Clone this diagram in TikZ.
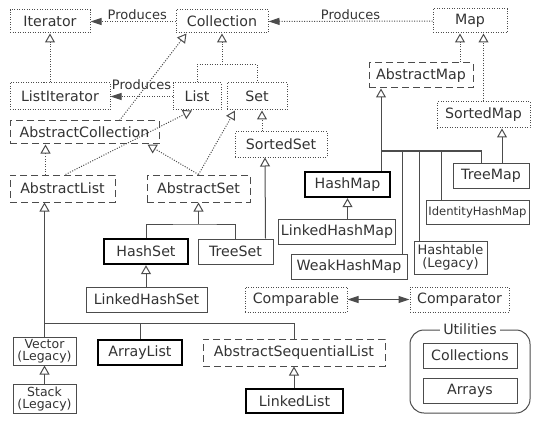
\documentclass[tikz,border=0pt]{standalone}
\usepackage{fontspec}
\setmainfont{DejaVu Sans}
\usetikzlibrary{arrows.meta}

\definecolor{ink}{rgb}{0.2,0.2,0.2}
\definecolor{edge}{rgb}{0.3,0.3,0.3}

\begin{document}
\begin{tikzpicture}[x=1pt, y=-1pt,
    every node/.style={font=\fontsize{14.2}{15}\selectfont, text=ink, inner sep=2pt},
    iface/.style={draw=edge, line width=1pt, dash pattern=on 1pt off 1.5pt},
    abstr/.style={draw=edge, line width=1pt, dash pattern=on 7pt off 4pt},
    impl/.style={draw=edge, line width=1pt},
    heavy/.style={draw=black, line width=2.4pt},
    small/.style={font=\fontsize{12.5}{12}\selectfont, align=center},
    tiny/.style={font=\fontsize{11.6}{12}\selectfont},
    twoline/.style={font=\fontsize{13}{13}\selectfont, align=center},
    group/.style={draw=edge, line width=1pt, rounded corners=14pt},
    ifline/.style={edge, line width=1pt, dash pattern=on 1pt off 1.5pt},
    iinherit/.style={ifline, -{Triangle[open, width=10pt, length=9pt]}},
    cline/.style={edge, line width=1pt},
    cinherit/.style={cline, -{Triangle[open, width=10pt, length=9pt]}},
    produce/.style={ifline, -{Triangle[width=7pt, length=11pt]}},
    both/.style={cline, {Triangle[width=7pt, length=11pt]}-{Triangle[width=7pt, length=11pt]}},
    verb/.style={font=\fontsize{13}{14}\selectfont, inner sep=1pt}]
    \useasboundingbox (0,0) rectangle (554,425);

    \node[iface, minimum width=80pt, minimum height=23pt] (Iterator) at (50,21.5) {Iterator};
    \node[iface, minimum width=92pt, minimum height=23pt] (Collection) at (222,21.5) {Collection};
    \node[iface, minimum width=74pt, minimum height=24pt] (Map) at (470,21) {Map};
    \node[iface, minimum width=100pt, minimum height=27pt] (ListIterator) at (60,96.5) {ListIterator};
    \node[iface, minimum width=48pt, minimum height=27pt] (List) at (197,96.5) {List};
    \node[iface, minimum width=60pt, minimum height=27pt] (Set) at (257,96.5) {Set};
    \node[abstr, minimum width=149pt, minimum height=23pt] (AbstractCollection) at (84.5,132.5) {AbstractCollection};
    \node[iface, minimum width=92pt, minimum height=25pt] (SortedSet) at (281,144.5) {SortedSet};
    \node[abstr, minimum width=105pt, minimum height=27pt] (AbstractList) at (62.5,188.5) {AbstractList};
    \node[abstr, minimum width=103pt, minimum height=27pt] (AbstractSet) at (198.5,188.5) {AbstractSet};
    \node[abstr, minimum width=104pt, minimum height=25pt] (AbstractMap) at (421,75.5) {AbstractMap};
    \node[iface, minimum width=93pt, minimum height=26pt] (SortedMap) at (483.5,115) {SortedMap};
    \node[heavy, minimum width=85pt, minimum height=25pt] (HashMap) at (347.5,184.5) {HashMap};
    \node[impl, minimum width=76pt, minimum height=25pt] (TreeMap) at (491,175.5) {TreeMap};
    \node[impl, tiny, minimum width=103pt, minimum height=24pt] (IdentityHashMap) at (477.5,212) {IdentityHashMap};
    \node[impl, minimum width=114pt, minimum height=25pt] (LinkedHashMap) at (337,231.5) {LinkedHashMap};
    \node[impl, twoline, minimum width=73pt, minimum height=33pt] (Hashtable) at (450.5,257.5) {Hashtable\\(Legacy)};
    \node[impl, minimum width=116pt, minimum height=25pt] (WeakHashMap) at (349,266.5) {WeakHashMap};
    \node[heavy, minimum width=84pt, minimum height=25pt] (HashSet) at (146,251.5) {HashSet};
    \node[impl, minimum width=75pt, minimum height=25pt] (TreeSet) at (235.5,251.5) {TreeSet};
    \node[impl, minimum width=121pt, minimum height=25pt] (LinkedHashSet) at (146.5,299.5) {LinkedHashSet};
    \node[iface, minimum width=102pt, minimum height=25pt] (Comparable) at (296,299.5) {Comparable};
    \node[iface, minimum width=99pt, minimum height=25pt] (Comparator) at (459.5,299.5) {Comparator};
    \node[impl, small, minimum width=63pt, minimum height=28pt] (Vector) at (44.5,351) {Vector\\(Legacy)};
    \node[heavy, minimum width=84pt, minimum height=25pt] (ArrayList) at (140,352.5) {ArrayList};
    \node[abstr, minimum width=182pt, minimum height=27pt] (AbstractSequentialList) at (294,352.5) {AbstractSequentialList};
    \node[impl, small, minimum width=63pt, minimum height=28pt] (Stack) at (44.5,399) {Stack\\(Legacy)};
    \node[heavy, minimum width=97pt, minimum height=24pt] (LinkedList) at (294.5,401) {LinkedList};
    \node[group, minimum width=120pt, minimum height=83pt] (Utilities) at (470,371.5) {};
    \node[fill=white, inner sep=3pt] (UtilitiesLabel) at (Utilities.north) {Utilities};
    \node[impl, minimum width=94pt, minimum height=25pt] (Collections) at (470,355.5) {Collections};
    \node[impl, minimum width=94pt, minimum height=25pt] (Arrays) at (470,390.5) {Arrays};

    \draw[produce] (Collection) -- node[above, verb, pos=0.45] {Produces} (Iterator);
    \draw[produce] (Map) -- node[above, verb] {Produces} (Collection);
    \draw[produce] (List) -- node[above=5pt, verb] {Produces} (ListIterator);

    \coordinate (lsbus) at (222,65);
    \draw[iinherit] (Iterator.south |- ListIterator.north) -- (Iterator.south);
    \draw[ifline] (List.north) |- (lsbus) -| (Set.north);
    \draw[iinherit] (lsbus) -- (Collection.south);
    \draw[iinherit] ([xshift=-40pt]AbstractCollection.north east) -- ([xshift=11pt]Collection.south west);
    \draw[iinherit] ([xshift=3pt]AbstractList.north) -- ([xshift=-5pt]List.south);
    \draw[iinherit] ([xshift=-17pt]AbstractList.north) -- ([xshift=-39pt]AbstractCollection.south);
    \draw[iinherit] (AbstractSet.north) -- ([xshift=-12pt]AbstractCollection.south east);
    \draw[iinherit] (AbstractSet.north) -- ([xshift=-22pt]Set.south);
    \draw[iinherit] ([xshift=-19pt]SortedSet.north) -- ([xshift=5pt]Set.south);
    \draw[iinherit] ([xshift=39pt]AbstractMap.north) -- ([xshift=-10pt]Map.south);
    \draw[iinherit] (SortedMap.north) -- ([xshift=13.5pt]Map.south);

    \coordinate (mapbus) at (381,151);
    \draw[cinherit] (mapbus |- HashMap.north) -- (mapbus |- AbstractMap.south);
    \draw[cline] (mapbus) -| ([xshift=-5pt]WeakHashMap.north east);
    \draw[cline] (mapbus) -| ([xshift=6pt]Hashtable.north west);
    \draw[cline] (mapbus) -| ([xshift=16pt]IdentityHashMap.north west);
    \draw[cline] (mapbus) -| ([xshift=-10pt]TreeMap.north);
    \draw[cinherit] ([xshift=11pt]TreeMap.north) -- ([xshift=18.5pt]SortedMap.south);
    \draw[cinherit] (HashMap.south |- LinkedHashMap.north) -- (HashMap.south);

    \coordinate (setbus) at (198.5,224);
    \draw[cline] (HashSet.north) |- (setbus) -| (TreeSet.north);
    \draw[cinherit] (setbus) -- (AbstractSet.south);
    \draw[cinherit] ([xshift=-8pt]TreeSet.north east) -- ([xshift=-16pt]SortedSet.south);
    \draw[cinherit] (HashSet.south |- LinkedHashSet.north) -- (HashSet.south);

    \coordinate (listbus) at (44.5,323);
    \draw[cinherit] (Vector.north) -- (Vector.north |- AbstractList.south);
    \draw[cline] (listbus) -| (ArrayList.north);
    \draw[cline] (listbus) -| (AbstractSequentialList.north);
    \draw[cinherit] (Stack.north) -- (Vector.south);
    \draw[cinherit] (AbstractSequentialList.south |- LinkedList.north) -- (AbstractSequentialList.south);

    \draw[both] (Comparable) -- (Comparator);
\end{tikzpicture}
\end{document}
